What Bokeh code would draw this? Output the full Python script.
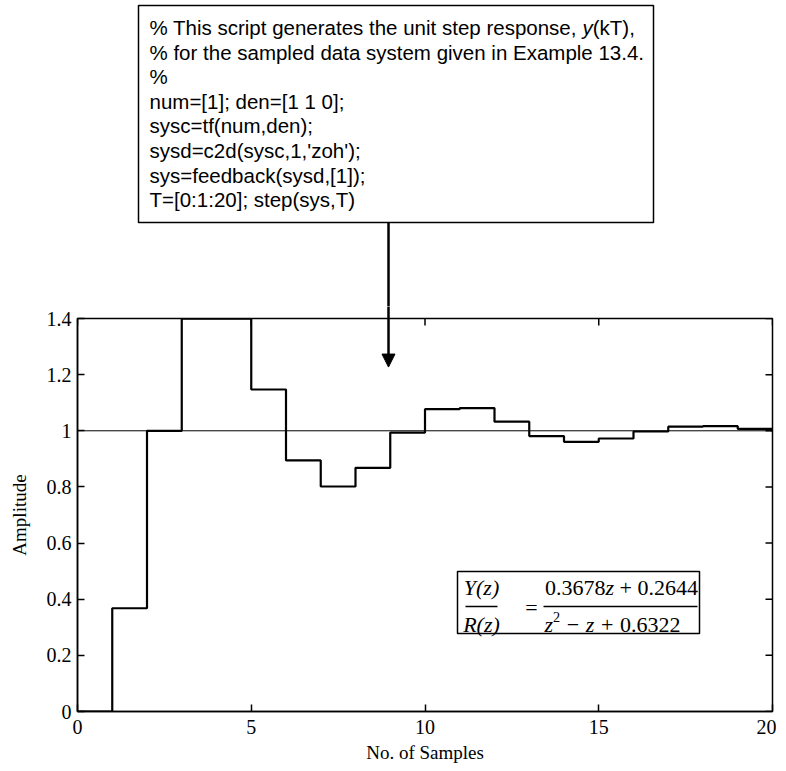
from bokeh.plotting import figure
from bokeh.layouts import column
from bokeh.models import Range1d, FixedTicker, Span, Arrow, NormalHead, LinearAxis
from bokeh.core.properties import value
from bokeh.embed import file_html
from bokeh.resources import INLINE

# ---- data ----
samples = list(range(0, 21))
amplitude = [0.0, 0.3678, 1.0, 1.3996, 1.3996, 1.1470, 0.8944, 0.8015, 0.8682,
             0.9937, 1.0770, 1.0810, 1.0323, 0.9811, 0.9607, 0.9726, 0.9974,
             1.0147, 1.0163, 1.0070, 0.9967]
x_ticks = [0, 5, 10, 15, 20]
x_tick_labels = ["0", "5", "10", "15", "20"]
y_ticks = [0, 0.2, 0.4, 0.6, 0.8, 1.0, 1.2, 1.4]
y_tick_labels = ["0", "0.2", "0.4", "0.6", "0.8", "1", "1.2", "1.4"]
reference_level = 1.0
arrow_target = (8.95, 1.227)

code_lines = [
    "% This script generates the unit step response, ",
    "% for the sampled data system given in Example 13.4.",
    "%",
    "num=[1]; den=[1 1 0];",
    "sysc=tf(num,den);",
    "sysd=c2d(sysc,1,'zoh');",
    "sys=feedback(sysd,[1]);",
    "T=[0:1:20]; step(sys,T)",
]
code_italic = "y"
code_tail = "(kT),"

# transfer function text runs: (text, italic?, advance in em, size factor, raise px)
tf_lhs_num = "Y(z)"
tf_lhs_den = "R(z)"
tf_num_runs = [("0.3678", False, 2.75, 1, 0), ("z", True, 0.389, 1, 0),
               (None, False, 0.25, 1, 0), ("+", False, 0.564, 1, 0),
               (None, False, 0.25, 1, 0), ("0.2644", False, 2.75, 1, 0)]
tf_den_runs = [("z", True, 0.389, 1, 0), ("2", False, 0.5, 0.65, 8),
               (None, False, 0.3, 1, 0), ("\u2212", False, 0.564, 1, 0),
               (None, False, 0.3, 1, 0), ("z", True, 0.389, 1, 0),
               (None, False, 0.3, 1, 0), ("+", False, 0.564, 1, 0),
               (None, False, 0.3, 1, 0), ("0.6322", False, 2.75, 1, 0)]

SERIF = "Liberation Serif"
SANS = "Liberation Sans"

# geometry (page px)
FL, FR, FT, FB = 77, 772, 318, 711
GAP = 12
XMAX, YMAX = 20, 1.4
W_RIGHT = 4
BOTTOM = 52
PXX = (FR - FL) / XMAX
PXY = (FB - FT) / YMAX


def dx(px):
    return (px - FL) / PXX


def dy(py):
    return (FB - py) / PXY


# ---------------- top panel: code box + arrow shaft ----------------
TOP_H = FT - GAP
top = figure(frame_width=FR - FL, frame_height=TOP_H,
             min_border_left=FL, min_border_right=W_RIGHT,
             min_border_top=0, min_border_bottom=0,
             x_range=Range1d(FL, FR), y_range=Range1d(TOP_H, 0),
             x_axis_location=None, y_axis_location=None,
             output_backend="svg", toolbar_location=None)
top.outline_line_color = None
top.grid.visible = False
top.border_fill_color = "white"

BOX_L, BOX_R, BOX_T, BOX_B = 138, 653, 5, 222
TXT_L, FS_CODE, LINE0, LSTEP = 149, 20.5, 27, 24.6

top.quad(left=[BOX_L], right=[BOX_R], top=[BOX_T], bottom=[BOX_B],
         fill_color="white", line_color="black", line_width=1.5)
ys = [LINE0 + LSTEP * i for i in range(len(code_lines))]
top.text(x=[TXT_L] * len(code_lines), y=ys, text=code_lines,
         text_font=value(SANS), text_font_size=f"{FS_CODE}px",
         text_baseline="middle", text_align="left", text_color="black")
prefix_em = 21.12
yx = TXT_L + prefix_em * FS_CODE
top.text(x=[yx], y=[ys[0]], text=[code_italic], text_font=value(SANS),
         text_font_size=f"{FS_CODE}px", text_font_style="italic",
         text_baseline="middle", text_color="black")
top.text(x=[yx + 0.5 * FS_CODE], y=[ys[0]], text=[code_tail], text_font=value(SANS),
         text_font_size=f"{FS_CODE}px", text_baseline="middle", text_color="black")

arrow_px = FL + arrow_target[0] * PXX
top.segment(x0=[arrow_px], y0=[BOX_B], x1=[arrow_px], y1=[TOP_H + 2],
            line_color="black", line_width=2.5)

# ---------------- main plot ----------------
p = figure(frame_width=FR - FL, frame_height=FB - FT,
           min_border_left=FL, min_border_right=W_RIGHT,
           min_border_top=GAP, min_border_bottom=BOTTOM,
           x_range=Range1d(0, XMAX), y_range=Range1d(0, YMAX),
           output_backend="svg", toolbar_location=None,
           x_axis_label="No. of Samples", y_axis_label="Amplitude")
p.background_fill_color = "white"
p.border_fill_color = "white"
p.outline_line_color = "black"
p.outline_line_width = 1.5
p.grid.visible = False

for ax in (p.xaxis[0], p.yaxis[0]):
    ax.major_tick_in = 7
    ax.major_tick_out = 0
    ax.minor_tick_line_color = None
    ax.axis_line_color = "black"
    ax.axis_line_width = 1.5
    ax.major_tick_line_width = 1.5
    ax.major_label_text_font = SERIF
    ax.major_label_text_font_size = "20px"
    ax.major_label_text_color = "black"
    ax.axis_label_text_font = SERIF
    ax.axis_label_text_font_size = "19px"
    ax.axis_label_text_font_style = "normal"
    ax.axis_label_text_color = "black"

p.xaxis[0].ticker = FixedTicker(ticks=x_ticks)
p.xaxis[0].major_label_overrides = dict(zip(x_ticks, x_tick_labels))
p.xaxis[0].major_label_standoff = 8
p.xaxis[0].axis_label_standoff = 5
p.yaxis[0].ticker = FixedTicker(ticks=y_ticks)
p.yaxis[0].major_label_overrides = dict(zip(y_ticks, y_tick_labels))
p.yaxis[0].major_label_standoff = 6
p.yaxis[0].axis_label_standoff = 14

# arrow shaft through the top border of the plot
shaft = LinearAxis(ticker=FixedTicker(ticks=[arrow_target[0]]),
                   major_tick_out=GAP, major_tick_in=0,
                   major_tick_line_width=2.5, major_tick_line_color="black",
                   minor_tick_line_color=None, axis_line_color=None,
                   major_label_text_font_size="1px", major_label_text_color=None,
                   major_label_standoff=-1)
p.add_layout(shaft, "above")

# mirrored inward ticks on right and top
tick_dx = 7 / PXX
tick_dy = 7 / PXY
p.segment(x0=[XMAX - tick_dx] * len(y_ticks), y0=y_ticks,
          x1=[XMAX] * len(y_ticks), y1=y_ticks, line_color="black", line_width=1.5)
p.segment(x0=x_ticks, y0=[YMAX - tick_dy] * len(x_ticks),
          x1=x_ticks, y1=[YMAX] * len(x_ticks), line_color="black", line_width=1.5)

# steady-state reference line
p.add_layout(Span(location=reference_level, dimension="width",
                  line_color="black", line_width=1))

# step response
p.step(samples, amplitude, mode="after", line_color="black", line_width=2.2)

# arrow head part inside plot
p.add_layout(Arrow(x_start=arrow_target[0], y_start=YMAX,
                   x_end=arrow_target[0], y_end=arrow_target[1],
                   line_width=2.5, line_color="black",
                   end=NormalHead(size=13, fill_color="black", line_color="black")))

# transfer function box
p.quad(left=[dx(457)], right=[dx(699)], top=[dy(571)], bottom=[dy(633)],
       fill_color="white", line_color="black", line_width=1.5)
p.segment(x0=[dx(465), dx(543)], y0=[dy(606)] * 2, x1=[dx(497), dx(697)],
          y1=[dy(606)] * 2, line_color="black", line_width=1.3)
EQ_FS = 22


def put(txt, x_px, y_px, italic=False, size=EQ_FS, align="left"):
    p.text(x=[dx(x_px)], y=[dy(y_px)], text=[txt], text_align=align,
           text_baseline="middle", text_font=value(SERIF),
           text_font_size=f"{size}px",
           text_font_style="italic" if italic else "normal", text_color="black")


def put_runs(runs, center_px, y_px):
    total = sum(r[2] * r[3] for r in runs) * EQ_FS
    x = center_px - total / 2
    for txt, it, em, fac, rise in runs:
        if txt is not None:
            put(txt, x, y_px - rise, italic=it, size=round(EQ_FS * fac, 1))
        x += em * fac * EQ_FS


put(tf_lhs_num, 481, 587, italic=True, align="center")
put(tf_lhs_den, 481, 624, italic=True, align="center")
put("=", 531, 607, align="center")
put_runs(tf_num_runs, 621, 587)
put_runs(tf_den_runs, 612, 624)

layout = column(top, p, spacing=0)
open("out.html", "w").write(file_html(layout, INLINE))
